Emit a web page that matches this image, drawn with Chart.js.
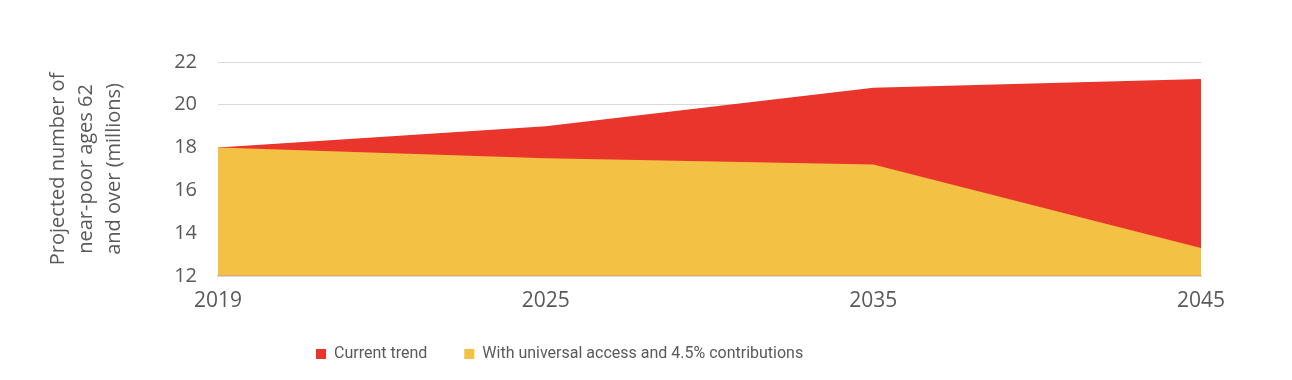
<!DOCTYPE html>
<html><head><meta charset="utf-8">
<script src="https://cdn.jsdelivr.net/npm/chart.js@4.4.1/dist/chart.umd.min.js"></script>
<style>html,body{margin:0;padding:0;background:#fff}#wrap{width:1292px;height:380px}</style>
</head><body><div id="wrap"><canvas id="c" width="1292" height="380"></canvas></div>
<script>
const years = ['2019', '2025', '2035', '2045'];
const currentTrend = [18.0, 19.0, 20.8, 21.2];
const universalAccess = [18.0, 17.5, 17.2, 13.3];
const seriesNames = ['Current trend', 'With universal access and 4.5% contributions'];
const yTitle = ['Projected number of', 'near-poor ages 62', 'and over (millions)'];
const yMin = 12, yMax = 22, yStep = 2;

const RED = '#E9352B', YELLOW = '#F3C144', TEXT = '#595959', GRID = '#D9D9D9';

const legendPlace = {
  id: 'legendPlace',
  afterLayout(chart) {
    const lg = chart.legend;
    const pad = lg.options.labels.padding;
    const left = 316 - pad;
    lg.left = left; lg.right = left + lg.width;
    const top = 354 - 8 - pad;
    lg.top = top; lg.bottom = top + lg.height;
  }
};

new Chart(document.getElementById('c'), {
  type: 'line',
  data: {
    labels: years,
    datasets: [
      { label: seriesNames[0], data: currentTrend, backgroundColor: RED, borderColor: RED,
        borderWidth: 0, pointRadius: 0, fill: 'start', tension: 0, order: 1 },
      { label: seriesNames[1], data: universalAccess, backgroundColor: YELLOW, borderColor: YELLOW,
        borderWidth: 0, pointRadius: 0, fill: 'start', tension: 0, order: 0 }
    ]
  },
  options: {
    responsive: false,
    animation: false,
    devicePixelRatio: 1,
    layout: { padding: { top: 62, right: 91, bottom: -10, left: 0 } },
    plugins: {
      tooltip: { enabled: false },
      legend: {
        position: 'bottom',
        align: 'start',
        labels: {
          boxWidth: 10, boxHeight: 10, padding: 37, color: TEXT,
          font: { family: 'Roboto', size: 16 },
          sort: (a, b) => a.datasetIndex - b.datasetIndex
        }
      }
    },
    scales: {
      x: {
        type: 'category',
        offset: false,
        grid: { display: false, drawTicks: false },
        border: { display: true, color: GRID, width: 2 },
        ticks: { color: TEXT, font: { family: 'Open Sans', size: 21 }, padding: 13, maxRotation: 0, autoSkip: false }
      },
      y: {
        min: yMin, max: yMax,
        grid: { color: GRID, lineWidth: 1, drawTicks: false },
        border: { display: false },
        ticks: { stepSize: yStep, color: TEXT, font: { family: 'Open Sans', size: 20 }, padding: 21 },
        title: {
          display: true, text: yTitle, color: TEXT,
          font: { family: 'Open Sans', size: 20, lineHeight: 1.4 },
          padding: { top: 44, bottom: 0 }
        },
        afterFit(s) { s.width = 218; }
      }
    }
  },
  plugins: [legendPlace]
});
</script></body></html>
